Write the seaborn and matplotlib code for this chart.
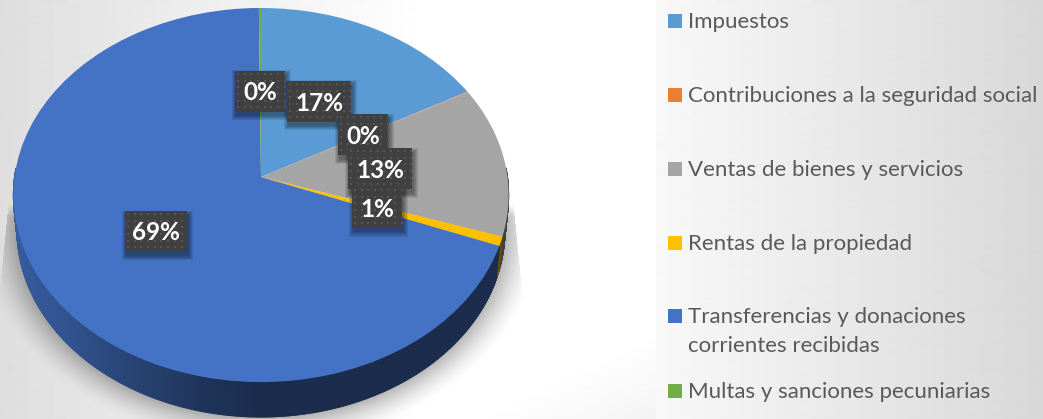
import numpy as np
import matplotlib
matplotlib.use("Agg")
import matplotlib.pyplot as plt
import matplotlib.transforms as mtransforms
from matplotlib.collections import PolyCollection
from matplotlib.patches import Rectangle
import seaborn as sns

# ------------------------- data -------------------------

categorias = ["Impuestos", "Contribuciones a la seguridad social", "Ventas de bienes y servicios",
              "Rentas de la propiedad", "Transferencias y donaciones\ncorrientes recibidas",
              "Multas y sanciones pecuniarias"]
valores = [17.0, 0.05, 13.0, 0.8, 69.0, 0.15]
etiquetas = ["17%", "0%", "13%", "1%", "69%", "0%"]
colores = ["#5B9BD5", "#ED7D31", "#A5A5A5", "#FFC000", "#4472C4", "#70AD47"]

# pixel layout of the picture
W, H = 1043, 419
CX, AY = 261, 177      # where the slices meet
RX, RY, K = 246.5, 185.3, 0.0963
DEPTH, BOTTOM_SCALE = 35, 0.985
cajas = [(287, 81, 64, 41), (338, 114, 50, 41), (348, 148, 64, 41),
         (352, 187, 50, 41), (125, 211, 62, 40), (235, 71, 50, 41)]
orden_cajas = [5, 0, 1, 3, 2, 4]
legend_y = [22, 96, 170, 244, 317, 392]


class PieTilt(mtransforms.Transform):
    input_dims = 2
    output_dims = 2
    has_inverse = False

    def transform_non_affine(self, values):
        values = np.asarray(values)
        s = 1 / (1 + K * values[:, 1])
        return np.column_stack([CX + RX * values[:, 0] * s, AY - RY * values[:, 1] * s])


def make_background():
    x, y = np.meshgrid(np.arange(W) + 0.5, np.arange(H) + 0.5)
    img = np.full((H, W), 255.0)
    left = x < 656
    img[left] = np.clip(222 + 33 * x[left] / 430, 0, 255)
    # lower right of the plot area goes a bit grey
    corner = np.clip((x - 470) / 190 + (y - 330) / 90 - 1, 0, 1)
    img[left] -= 12 * corner[left]
    img[~left] = 248 - 32 * (x[~left] - 656) / 387

    # soft shadow under the pie
    d = (np.sqrt(((x - CX) / 245) ** 2 + ((y - 231) / 187) ** 2) - 1) * 230
    shadow = np.clip(1 - d / 34, 0, 1) ** 1.6
    shadow *= np.clip((y - 205) / 12, 0, 1)
    edge = 254 + (y - 220) * 0.1
    shadow *= np.abs(x - CX) < edge
    return img * (1 - 0.27 * shadow)


def draw_box(ax, caja, texto):
    x, y, w, h = caja
    for grow in [4.5, 3.5, 2.5, 1.5, 0.5]:
        ax.add_patch(Rectangle((x + 1 - grow, y + 4 - grow), w + 2 * grow, h + 2 * grow,
                               fc="black", ec="none", alpha=0.09, zorder=5))
    ax.add_patch(Rectangle((x, y), w, h, fc="#404040", ec="none", zorder=6))
    dx, dy = np.meshgrid(np.arange(x + 3, x + w, 6.7), np.arange(y + 3, y + h, 6.7))
    ax.scatter(dx.ravel(), dy.ravel(), s=1.8, marker="s", color="#555555", linewidths=0, zorder=6)
    ax.text(x + w / 2, y + h / 2 + 1.5, texto, color="white", fontsize=17.5, fontweight="bold",
            ha="center", va="center", zorder=7)


# ------------------------- figure -------------------------

sns.set_theme(style="white")
plt.rcParams["font.family"] = ["Lato", "DejaVu Sans"]
paleta = sns.color_palette(colores)

fig, ax = plt.subplots(figsize=(W / 100, H / 100), dpi=100)
fig.subplots_adjust(0, 0, 1, 1)

wedges, _ = ax.pie(valores, colors=paleta, startangle=90, counterclock=False, radius=1)
tilt = PieTilt()
for wedge in wedges:
    wedge.set_transform(tilt + ax.transData)
    wedge.set_zorder(3)
    wedge.set_linewidth(0)

# side wall of the pie
caras, tonos = [], []
for wedge, color in zip(wedges, paleta):
    th = np.append(np.arange(wedge.theta1, wedge.theta2, 0.25), wedge.theta2)
    th = th[np.sin(np.radians(th)) < 0.05]
    if len(th) < 2:
        continue
    r = np.radians(th)
    top = tilt.transform_non_affine(np.column_stack([np.cos(r), np.sin(r)]))
    low = np.column_stack([CX + (top[:, 0] - CX) * BOTTOM_SCALE, top[:, 1] + DEPTH])
    for i in range(len(th) - 1):
        caras.append([top[i], top[i + 1], low[i + 1], low[i]])
        f = np.interp(top[i, 0], [13, 60, 120, 200, 260, 508], [0.8, 0.74, 0.62, 0.46, 0.39, 0.39])
        tonos.append(tuple(np.array(color) * f))
ax.add_collection(PolyCollection(caras, facecolors=tonos, edgecolors=tonos, linewidths=0.7, zorder=2))

ax.imshow(make_background(), cmap="gray", vmin=0, vmax=255, extent=(0, W, H, 0),
          aspect="auto", interpolation="bilinear", zorder=0)

for i in orden_cajas:
    draw_box(ax, cajas[i], etiquetas[i])

# legend
for nombre, color, yc in zip(categorias, paleta, legend_y):
    ax.add_patch(Rectangle((668, round(yc) - 8), 14, 14, fc=color, ec="none", zorder=4))
    partes = nombre.split("\n")
    for j, parte in enumerate(partes):
        ax.text(688, yc + j * 28.5, parte, color="#595959", fontsize=16, va="center", ha="left", zorder=4)

ax.set_aspect("auto")
ax.set_xlim(0, W)
ax.set_ylim(H, 0)
ax.set_axis_off()
fig.savefig("out.png", dpi=100)
